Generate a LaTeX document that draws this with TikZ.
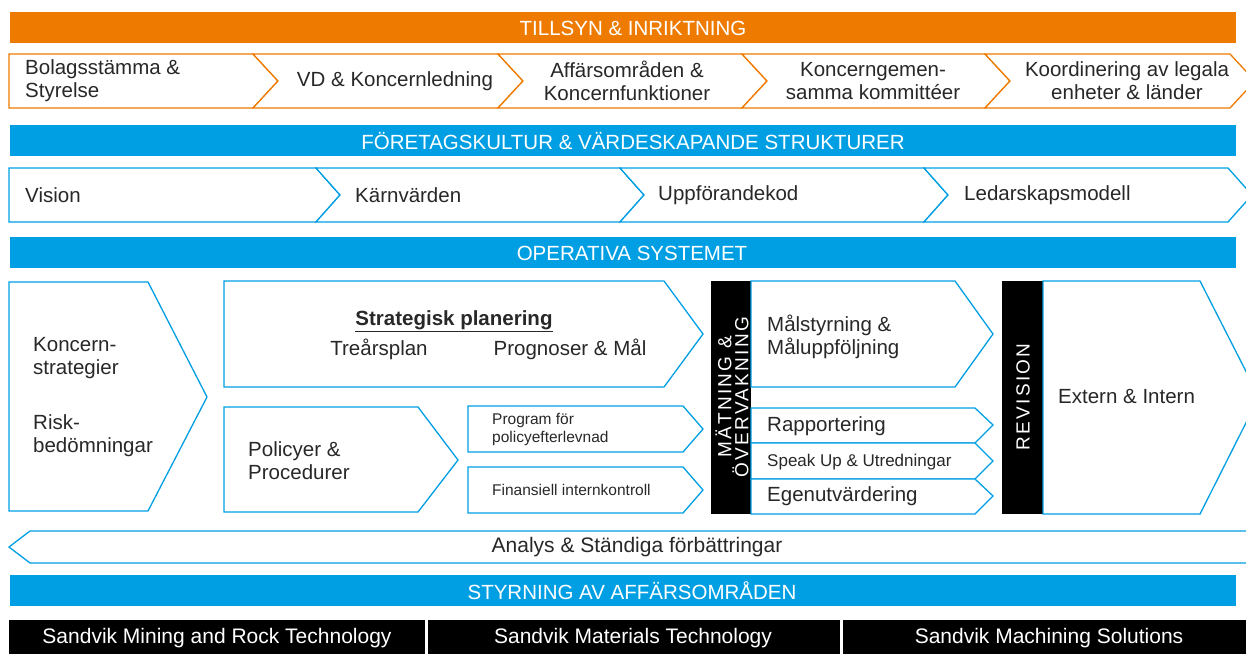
\documentclass[tikz,border=0pt]{standalone}
\usepackage{fontspec}
\setmainfont{Liberation Sans}
\usepackage{tikz}
\definecolor{sorange}{RGB}{238,123,0}
\definecolor{sblue}{RGB}{0,159,227}
\definecolor{txt}{RGB}{40,40,40}
\tikzstyle{barO} = [fill=sorange, draw=none]
\tikzstyle{barB} = [fill=sblue, draw=none]
\tikzstyle{barK} = [fill=black, draw=none]
\tikzstyle{chevO} = [draw=sorange, line width=1.3pt, fill=white, line join=miter]
\tikzstyle{chevB} = [draw=sblue, line width=1.3pt, fill=white, line join=miter]
\tikzstyle{title} = [text=white, inner sep=0pt, font=\fontsize{20.5}{23}\selectfont]
\tikzstyle{lbl} = [text=txt, inner sep=0pt, align=left, anchor=west, font=\fontsize{20.5}{23}\selectfont]
\tikzstyle{lblc} = [text=txt, inner sep=0pt, align=center, font=\fontsize{20.5}{23}\selectfont]
\tikzstyle{small} = [text=txt, inner sep=0pt, align=left, anchor=west, font=\fontsize{15.5}{18}\selectfont]
\tikzstyle{vert} = [text=white, inner sep=0pt, align=center, rotate=90, font=\fontsize{19}{17}\selectfont\addfontfeature{LetterSpace=12}]

\begin{document}
\begin{tikzpicture}[x=1pt, y=-1pt]
\useasboundingbox (0,0) rectangle (1246,653);

\fill[barO] (10,12) rectangle (1236,43);
\node (tillsyn) [title] at (633,28) {TILLSYN \& INRIKTNING};

\draw[chevO] (9,54) -- (253,54) -- (278,81) -- (253,108) -- (9,108) -- cycle;
\foreach \a/\b in {253/498, 498/742, 742/985, 985/1230}
  \draw[chevO] (\a,54) -- (\b,54) -- ({\b+25},81) -- (\b,108) -- (\a,108) -- ({\a+25},81) -- cycle;
\node (bolag) [lbl] at (25,81) {Bolagsstämma \&\\Styrelse};
\node (vd) [lblc] at (395,81) {VD \& Koncernledning};
\node (affar) [lblc] at (627,81) {Affärsområden \&\\Koncernfunktioner};
\node (gemen) [lblc] at (873,81) {Koncerngemen-\\samma kommittéer};
\node (koord) [lblc] at (1127,81) {Koordinering av legala\\enheter \& länder};

\fill[barB] (10,125) rectangle (1236,156);
\node (kultur) [title] at (633,141) {FÖRETAGSKULTUR \& VÄRDESKAPANDE STRUKTURER};

\draw[chevB] (9,168) -- (316,168) -- (340,195) -- (316,222) -- (9,222) -- cycle;
\foreach \a/\b in {316/620, 620/924, 924/1228}
  \draw[chevB] (\a,168) -- (\b,168) -- ({\b+24},195) -- (\b,222) -- (\a,222) -- ({\a+24},195) -- cycle;
\node (vision) [lbl] at (25,195) {Vision};
\node (karn) [lbl] at (355,195) {Kärnvärden};
\node (uppf) [lbl] at (658,195) {Uppförandekod};
\node (ledar) [lbl] at (964,195) {Ledarskapsmodell};

\fill[barB] (10,237) rectangle (1236,268);
\node (operativa) [title] at (632,253) {OPERATIVA SYSTEMET};

\draw[chevB] (9,282) -- (148,282) -- (207,397) -- (148,511) -- (9,511) -- cycle;
\node (koncstrat) [lbl] at (33,358) {Koncern-\\strategier};
\node (risk) [lbl] at (33,436) {Risk-\\bedömningar};

\draw[chevB] (224,281) -- (664,281) -- (703,334) -- (664,387) -- (224,387) -- cycle;
\node (strat) [lblc] at (454,321) {\textbf{\underline{Strategisk planering}}};
\node (trear) [lblc] at (379,349) {Treårsplan};
\node (progn) [lblc] at (570,349) {Prognoser \& Mål};

\draw[chevB] (224,407) -- (418,407) -- (458,460) -- (418,512) -- (224,512) -- cycle;
\node (policy) [lbl] at (248,461) {Policyer \&\\Procedurer};

\draw[chevB] (468,406) -- (683,406) -- (703,429) -- (683,452) -- (468,452) -- cycle;
\draw[chevB] (468,467) -- (683,467) -- (703,490) -- (683,513) -- (468,513) -- cycle;
\node (program) [small] at (492,429) {Program för\\policyefterlevnad};
\node (finans) [small] at (492,490) {Finansiell internkontroll};

\fill[barK] (711,281) rectangle (751,514);
\node (matning) [vert] at (732,397) {MÄTNING \&\\ÖVERVAKNING};

\draw[chevB] (751,281) -- (955,281) -- (993,334) -- (955,387) -- (751,387) -- cycle;
\draw[chevB] (751,408) -- (975,408) -- (993,425) -- (975,443) -- (751,443) -- cycle;
\draw[chevB] (751,443) -- (975,443) -- (993,461) -- (975,479) -- (751,479) -- cycle;
\draw[chevB] (751,479) -- (975,479) -- (993,496) -- (975,514) -- (751,514) -- cycle;
\node (malstyr) [lbl] at (767,337) {Målstyrning \&\\Måluppföljning};
\node (rapport) [lbl] at (767,426) {Rapportering};
\node (speak) [lbl, font=\fontsize{17}{20}\selectfont] at (767,462) {Speak Up \& Utredningar};
\node (egen) [lbl] at (767,496) {Egenutvärdering};

\fill[barK] (1002,281) rectangle (1043,514);
\node (revision) [vert] at (1023,397) {REVISION};
\draw[chevB] (1043,281) -- (1200,281) -- (1259,397) -- (1200,514) -- (1043,514) -- cycle;
\node (extern) [lbl] at (1058,397) {Extern \& Intern};

\draw[chevB] (30,531) -- (1252,531) -- (1252,563) -- (30,563) -- (9,547) -- cycle;
\node (analys) [lblc, font=\fontsize{21}{24}\selectfont] at (637,547) {Analys \& Ständiga förbättringar};

\fill[barB] (10,575) rectangle (1236,606);
\node (styrning) [title] at (632,591) {STYRNING AV AFFÄRSOMRÅDEN};

\fill[barK] (9,620) rectangle (425,660);
\fill[barK] (428,620) rectangle (840,660);
\fill[barK] (843,620) rectangle (1250,660);
\node (mining) [title, font=\fontsize{21}{24}\selectfont] at (217,638) {Sandvik Mining and Rock Technology};
\node (materials) [title, font=\fontsize{21}{24}\selectfont] at (633,638) {Sandvik Materials Technology};
\node (machining) [title, font=\fontsize{21}{24}\selectfont] at (1049,638) {Sandvik Machining Solutions};

\end{tikzpicture}
\end{document}
